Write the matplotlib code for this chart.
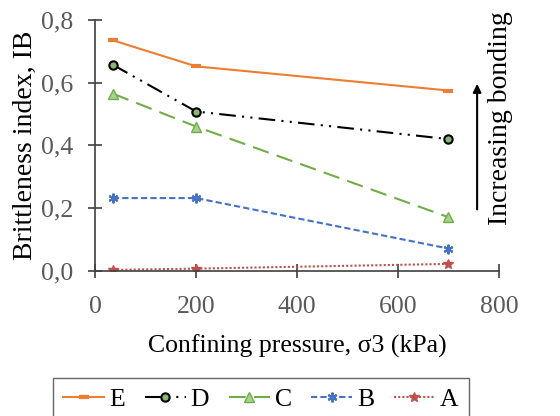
import matplotlib
matplotlib.use("Agg")
import matplotlib.pyplot as plt

plt.rcParams['font.family'] = ['Liberation Serif', 'DejaVu Serif']

pressure = [35, 200, 700]
E = [0.735, 0.652, 0.575]
D = [0.657, 0.508, 0.420]
C = [0.565, 0.460, 0.171]
B = [0.232, 0.232, 0.071]
A = [0.003, 0.007, 0.022]

xticks = [0, 200, 400, 600, 800]
yticks = [0.0, 0.2, 0.4, 0.6, 0.8]
ylabels = ['0,0', '0,2', '0,4', '0,6', '0,8']

fig = plt.figure(figsize=(5.6, 4.16), dpi=100)
ax = fig.add_axes([0.17, 0.349, 0.721, 0.603])

ax.plot(pressure, E, color='#ED7D31', lw=1.5, ls='-', marker='_', ms=7, mew=3, label='E')
ax.plot(pressure, D, color='black', lw=1.5, ls=(0, (8, 3, 1, 3, 1, 3)), marker='o', ms=6,
        mfc='#8DB670', mec='black', mew=1.5, label='D')
ax.plot(pressure, C, color='#70AD47', lw=1.5, ls=(0, (8, 4)), marker='^', ms=7,
        mfc='#A9D18E', mec='#70AD47', label='C')
ax.plot(pressure, B, color='#4472C4', lw=1.5, ls=(0, (3, 1.5)), marker=(6, 2, 0), ms=7,
        mew=1.5, label='B')
ax.plot(pressure, A, color='#C0504D', lw=1.5, ls=(0, (1, 1)), marker='*', ms=7, label='A')

ax.set_xlim(0, 800)
ax.set_ylim(0, 0.8)
ax.set_xticks(xticks)
ax.set_yticks(yticks)
ax.set_yticklabels(ylabels)
for s in ['top', 'right']:
    ax.spines[s].set_visible(False)
for s in ['left', 'bottom']:
    ax.spines[s].set_color('#404040')
    ax.spines[s].set_linewidth(1.2)
ax.tick_params(direction='inout', length=10, width=1.2, color='#404040',
               labelsize=18.5, labelcolor='#595959')
ax.tick_params(axis='x', pad=13)
ax.tick_params(axis='y', pad=11)
ax.set_xlabel('Confining pressure, σ3 (kPa)', fontsize=18.5, labelpad=12)
ax.set_ylabel('Brittleness index, IB', fontsize=20, labelpad=2)

ax.annotate('', xy=(0.852, 0.805), xytext=(0.852, 0.49), xycoords='figure fraction',
            arrowprops=dict(arrowstyle='-|>', color='black', lw=1.5, mutation_scale=12))
fig.text(0.893, 0.716, 'Increasing bonding', rotation=90, fontsize=20,
         ha='center', va='center')

fig.legend(loc='upper center', bbox_to_anchor=(0.466, 0.091), ncol=5, fontsize=18.5,
           frameon=True, fancybox=False, edgecolor='#404040', handlelength=1.6,
           handletextpad=0.2, columnspacing=0.75, borderpad=0.4, borderaxespad=0)

fig.savefig('out.png', dpi=100)
